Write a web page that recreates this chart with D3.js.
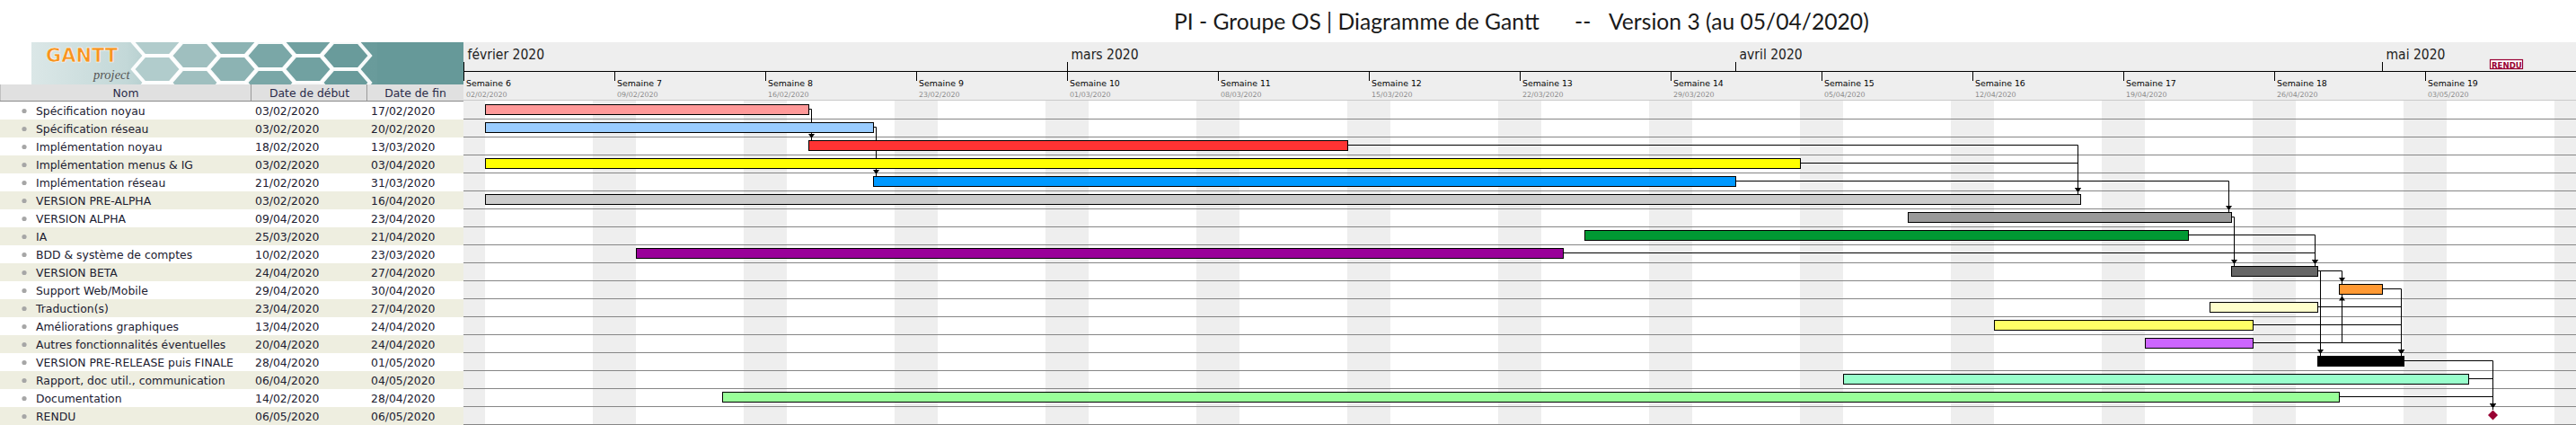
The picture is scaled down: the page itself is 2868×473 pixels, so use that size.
<!DOCTYPE html>
<html><head><meta charset="utf-8">
<script src="https://cdn.jsdelivr.net/npm/d3@7"></script>
<style>html,body{margin:0;padding:0;background:#fff;overflow:hidden}</style>
</head><body>
<svg id="chart" width="2868" height="473" xmlns="http://www.w3.org/2000/svg"></svg>
<script>
// ---------------- DATA ----------------
const taskNames = ["Spécification noyau","Spécification réseau","Implémentation noyau","Implémentation menus & IG","Implémentation réseau","VERSION PRE-ALPHA","VERSION ALPHA","IA","BDD & système de comptes","VERSION BETA","Support Web/Mobile","Traduction(s)","Améliorations graphiques","Autres fonctionnalités éventuelles","VERSION PRE-RELEASE puis FINALE","Rapport, doc util., communication","Documentation","RENDU"];
const startDates = ["03/02/2020","03/02/2020","18/02/2020","03/02/2020","21/02/2020","03/02/2020","09/04/2020","25/03/2020","10/02/2020","24/04/2020","29/04/2020","23/04/2020","13/04/2020","20/04/2020","28/04/2020","06/04/2020","14/02/2020","06/05/2020"];
const endDates = ["17/02/2020","20/02/2020","13/03/2020","03/04/2020","31/03/2020","16/04/2020","23/04/2020","21/04/2020","23/03/2020","27/04/2020","30/04/2020","27/04/2020","24/04/2020","24/04/2020","01/05/2020","04/05/2020","28/04/2020","06/05/2020"];
const barColors = ["#ff9999","#99ccff","#ff3333","#ffff00","#0099ff","#cccccc","#999999","#009933","#990099","#666666","#ff9933","#ffffcc","#ffff66","#cc66ff","#000000","#99ffcc","#99ff99","#990033"];
// dependencies: predecessor row, successor row, where the arrow lands ('s' near start, 'e' near end)
const depFrom   = [0,1,2,3,4,6,7,8,9,9,13,10,11,12,13,14,15,16];
const depTo     = [2,4,5,5,6,9,9,9,10,14,10,14,14,14,14,17,17,17];
const depAnchor = ["s","s","e","e","e","s","e","e","s","s","s","e","e","e","e","s","s","s"];
const monthLabels = ["février 2020","mars 2020","avril 2020","mai 2020"];
const weekNumbers = [6,7,8,9,10,11,12,13,14,15,16,17,18,19];
const columnHeaders = ["Nom","Date de début","Date de fin"];
const timelineStart = "02/02/2020", timelineEnd = "10/05/2020";
const titleParts = ["PI - Groupe OS | Diagramme de Gantt","--","Version 3 (au 05/04/2020)"];

// ---------------- SETUP ----------------
const svg = d3.select("#chart");
const parse = d3.utcParse("%d/%m/%Y");
const fmt = d3.utcFormat("%d/%m/%Y");
const dayW = 24, x0 = 516, W = 2868, H = 473;
const dStart = parse(timelineStart), dEnd = parse(timelineEnd);
const x = d3.scaleUtc().domain([dStart, dEnd])
  .range([x0, x0 + d3.utcDay.count(dStart, dEnd) * dayW]);
const rowH = 20;
const barTop = k => 116 + rowH * k;       // pixel row of bar top edge
const midY = k => 121.5 + rowH * k;       // connector y
const tasks = taskNames.map((n, i) => {
  const s = parse(startDates[i]), e = parse(endDates[i]);
  return {i, name: n, s, e, e1: d3.utcDay.offset(e, 1), color: barColors[i], milestone: +s === +e};
});

const defs = svg.append("defs");

// ---------------- TITLE ----------------
const titleG = svg.append("g").attr("font-family", "Lato").attr("fill", "#1a1a1a").style("white-space", "pre");
const tPos = [1307, 1753, 1791];
const t1 = titleG.append("text").attr("x", tPos[0]).attr("y", 32.5).attr("font-size", 21).text(titleParts[0]);
let w1 = t1.node().getComputedTextLength();
let fs = 21 * 407 / w1;
t1.attr("font-size", fs);
titleG.append("text").attr("x", tPos[1]).attr("y", 32.5).attr("font-size", fs).text(titleParts[1]);
titleG.append("text").attr("x", tPos[2]).attr("y", 32.5).attr("font-size", fs).text(titleParts[2]);

// ---------------- LOGO ----------------
const lg = defs.append("linearGradient").attr("id", "logoGrad").attr("x1", 0).attr("x2", 1).attr("y1", 0).attr("y2", 0);
[[0, "#dbe7e7"], [0.22, "#c3d8d8"], [0.4, "#8fb4b4"], [0.6, "#6c9d9d"], [1, "#669999"]]
  .forEach(([o, c]) => lg.append("stop").attr("offset", o).attr("stop-color", c));
defs.append("clipPath").attr("id", "logoClip").append("rect").attr("x", 35).attr("y", 47).attr("width", 481).attr("height", 47);
const logo = svg.append("g").attr("clip-path", "url(#logoClip)");
logo.append("rect").attr("x", 35).attr("y", 47).attr("width", 481).attr("height", 47).attr("fill", "url(#logoGrad)");
const hexPts = [[-27,0],[-14,-15],[14,-15],[27,0],[14,15],[-14,15]];
const hexColor = d3.scaleLinear().domain([150, 300, 400]).range(["#bcd3d3", "#7aa7a7", "#669999"]);
const hexes = [];
for (let c = 0; c < 7; c++) for (let r = -1; r < 3; r++) {
  const cx = 175 + c * 42, cy = 47 + r * 30 + (c % 2) * 15;
  if (cx < 420) hexes.push([cx, cy]);
}
logo.selectAll("path.hex").data(hexes).join("path").attr("class", "hex")
  .attr("d", d => "M" + hexPts.map(p => [p[0] + d[0], p[1] + d[1]].join(",")).join("L") + "Z")
  .attr("fill", d => hexColor(d[0])).attr("stroke", "#ffffff").attr("stroke-width", 4).attr("stroke-opacity", 0.95);
logo.append("rect").attr("x", 420).attr("y", 47).attr("width", 96).attr("height", 47).attr("fill", "#669999");
logo.append("text").attr("x", 51).attr("y", 69).attr("font-family", "DejaVu Sans").attr("font-weight", "bold")
  .attr("font-size", 21).attr("fill", "#f7931e").attr("stroke", "#ffffff").attr("stroke-width", 0.6).text("GANTT");
logo.append("text").attr("x", 104).attr("y", 88).attr("font-family", "Liberation Serif").attr("font-style", "italic")
  .attr("font-size", 14.5).attr("fill", "#555555").text("project");

// ---------------- TABLE ----------------
const colX = [0, 280, 409, 516];
const table = svg.append("g").attr("font-family", "DejaVu Sans").attr("font-size", 12.4);
columnHeaders.forEach((h, i) => {
  table.append("rect").attr("x", colX[i]).attr("y", 94).attr("width", colX[i + 1] - colX[i]).attr("height", 18).attr("fill", "#e0e0e0");
  if (i < 2) table.append("line").attr("x1", colX[i + 1] - 0.5).attr("x2", colX[i + 1] - 0.5).attr("y1", 94).attr("y2", 112).attr("stroke", "#9a9a9a");
  table.append("text").attr("x", (colX[i] + colX[i + 1]) / 2).attr("y", 107.5).attr("text-anchor", "middle").attr("fill", "#2a2a48").text(h);
});
table.append("line").attr("x1", 0).attr("x2", 516).attr("y1", 112.5).attr("y2", 112.5).attr("stroke", "#8a8a8a");
table.append("line").attr("x1", 0.5).attr("x2", 0.5).attr("y1", 94).attr("y2", 112).attr("stroke", "#c0c0c0");
const rows = table.selectAll("g.row").data(tasks).join("g").attr("class", "row");
rows.append("rect").attr("x", 0).attr("y", d => 113 + rowH * d.i).attr("width", 516).attr("height", rowH)
  .attr("fill", d => d.i % 2 ? "#eeeee0" : "#ffffff");
rows.append("circle").attr("cx", 27).attr("cy", d => 123.5 + rowH * d.i).attr("r", 2.6).attr("fill", "#a6a6a6");
rows.append("text").attr("x", 40).attr("y", d => 128 + rowH * d.i).attr("fill", "#202030").text(d => d.name);
rows.append("text").attr("x", 284).attr("y", d => 128 + rowH * d.i).attr("fill", "#202030").text(d => fmt(d.s));
rows.append("text").attr("x", 413).attr("y", d => 128 + rowH * d.i).attr("fill", "#202030").text(d => fmt(d.e));

// ---------------- TIMELINE HEADER ----------------
const hdr = svg.append("g");
hdr.append("rect").attr("x", x0).attr("y", 47).attr("width", W - x0).attr("height", 65).attr("fill", "#eeeeee");
hdr.append("line").attr("x1", x0).attr("x2", W).attr("y1", 111.5).attr("y2", 111.5).attr("stroke", "#cacaca");
hdr.append("line").attr("x1", x0).attr("x2", W).attr("y1", 79.5).attr("y2", 79.5).attr("stroke", "#000");
const months = [dStart].concat(d3.utcMonth.range(d3.utcDay.offset(dStart, 1), dEnd));
months.forEach((m, i) => {
  const mx = Math.max(x(m), x0);
  hdr.append("line").attr("x1", mx + 0.5).attr("x2", mx + 0.5).attr("y1", 69).attr("y2", 80).attr("stroke", "#000");
  hdr.append("text").attr("x", mx + 4.5).attr("y", 66).attr("font-family", "DejaVu Sans Condensed")
    .attr("font-size", 15.5).attr("fill", "#222").text(monthLabels[i]);
});
const weeks = d3.utcSunday.range(dStart, dEnd);
weeks.forEach((wk, i) => {
  const wx = x(wk);
  hdr.append("line").attr("x1", wx + 0.5).attr("x2", wx + 0.5).attr("y1", 79.5).attr("y2", 90).attr("stroke", "#000");
  hdr.append("text").attr("x", wx + 3).attr("y", 96).attr("font-family", "DejaVu Sans").attr("font-size", 9.4)
    .attr("fill", "#000").text("Semaine " + weekNumbers[i]);
  hdr.append("text").attr("x", wx + 3).attr("y", 108.3).attr("font-family", "DejaVu Sans").attr("font-size", 7.9)
    .attr("fill", "#8a8a8a").text(fmt(wk));
});
// milestone labels in header
tasks.filter(t => t.milestone).forEach(t => {
  const mx = x(t.s);
  hdr.append("rect").attr("x", mx + 0.5).attr("y", 66.5).attr("width", 36).attr("height", 10)
    .attr("fill", "#ffffff").attr("stroke", "#990033").attr("stroke-width", 1.2);
  hdr.append("text").attr("x", mx + 2).attr("y", 76.3).attr("font-family", "DejaVu Sans").attr("font-weight", "bold")
    .attr("font-size", 8.6).attr("fill", "#990033").text(t.name);
});

// ---------------- CHART BODY ----------------
const body = svg.append("g");
const weekendDays = d3.utcDay.range(dStart, dEnd).filter(d => d.getUTCDay() === 0 || d.getUTCDay() === 6);
body.selectAll("rect.we").data(weekendDays).join("rect").attr("class", "we")
  .attr("x", d => x(d)).attr("y", 112).attr("width", dayW).attr("height", H - 112).attr("fill", "#eeeeee");
body.selectAll("line.rowline").data(tasks).join("line").attr("class", "rowline")
  .attr("x1", x0).attr("x2", W).attr("y1", d => 132.5 + rowH * d.i).attr("y2", d => 132.5 + rowH * d.i)
  .attr("stroke", "#868686");

// connectors
const conn = svg.append("g").attr("stroke", "#000").attr("fill", "none").attr("stroke-width", 1);
const heads = svg.append("g").attr("fill", "#000");
depFrom.forEach((f, j) => {
  const a = tasks[f], b = tasks[depTo[j]];
  const ax = (depAnchor[j] === "s" ? x(b.s) + 3 : x(b.e1) - 3) + 0.5;
  const sx = x(a.e1) + 0.5, sy = midY(a.i);
  const down = b.i > a.i;
  const ty = down ? barTop(b.i) : barTop(b.i) + 12;
  conn.append("path").attr("d", `M${sx},${sy}H${ax}V${ty}`);
  if (down) heads.append("path").attr("d", `M${ax - 3.5},${ty - 7}H${ax + 3.5}L${ax},${ty - 2}Z`);
  else heads.append("path").attr("d", `M${ax - 3.5},${ty + 6.5}H${ax + 3.5}L${ax},${ty + 1.5}Z`);
});

// bars
const bars = svg.append("g");
bars.selectAll("rect.bar").data(tasks.filter(t => !t.milestone)).join("rect").attr("class", "bar")
  .attr("x", d => x(d.s) + 0.5).attr("y", d => barTop(d.i) + 0.5)
  .attr("width", d => x(d.e1) - x(d.s)).attr("height", 11)
  .attr("fill", d => d.color).attr("stroke", "#000").attr("stroke-width", 1);
bars.selectAll("path.ms").data(tasks.filter(t => t.milestone)).join("path").attr("class", "ms")
  .attr("d", d => {
    const cx = x(d.s) + 3.5, cy = midY(d.i) + 0.5, r = 5.5;
    return `M${cx},${cy - r}L${cx + r},${cy}L${cx},${cy + r}L${cx - r},${cy}Z`;
  })
  .attr("fill", d => d.color);
</script>
</body></html>
